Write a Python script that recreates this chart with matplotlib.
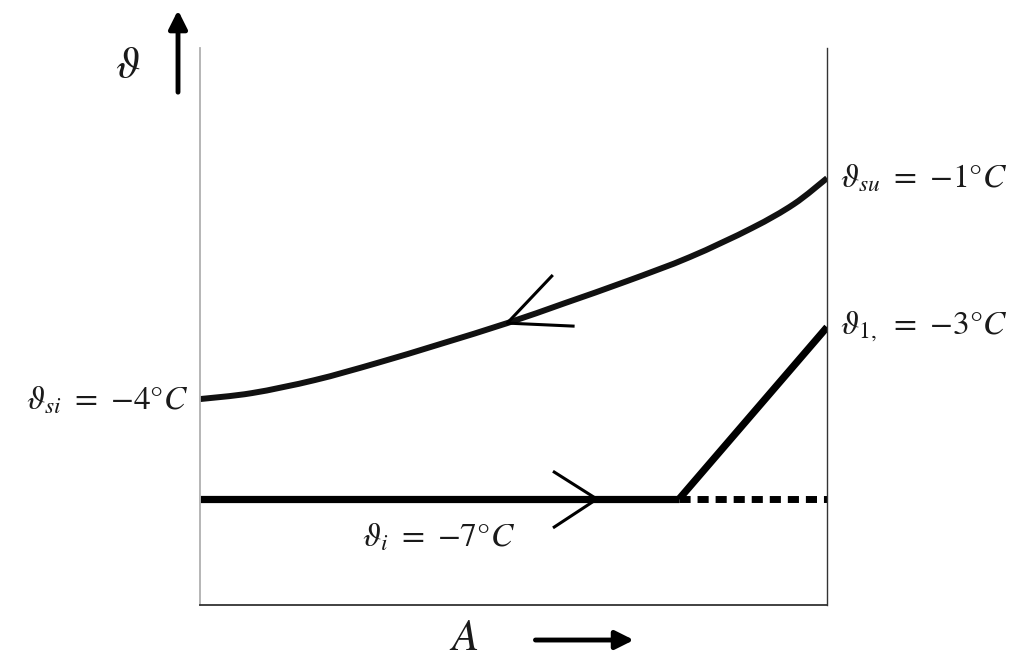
import matplotlib.pyplot as plt
from matplotlib.path import Path
from matplotlib.patches import PathPatch

plt.rcParams["mathtext.fontset"] = "stix"

# schematic coordinates: A as fraction of exchanger area, theta in arbitrary height units
curve_A = [0.0, 0.083, 0.183, 0.282, 0.383, 0.490, 0.582, 0.681, 0.781, 0.880, 0.947, 1.0]
curve_theta = [206, 212, 225, 242, 261, 282, 302, 324, 348, 377, 401, 427]

flat_A = [0.0, 0.764]
flat_theta = [106, 106]
rise_A = [0.764, 1.0]
rise_theta = [106, 278]
dotted_A = [0.764, 1.0]
dotted_theta = [106, 106]

# open arrowheads showing flow direction (arm, tip, arm)
upper_head_A = [0.561, 0.490, 0.595]
upper_head_theta = [329, 282, 279]
lower_head_A = [0.565, 0.633, 0.565]
lower_head_theta = [133, 106, 78]

labels = {
    "su": r"$\vartheta_{su}\ =\ {-1}°C$",
    "one": r"$\vartheta_{1,}\ =\ {-3}°C$",
    "si": r"$\vartheta_{si}\ =\ {-4}°C$",
    "i": r"$\vartheta_{i}\ =\ {-7}°C$",
}


def smooth_path(xs, ys):
    # Catmull-Rom through the read points, drawn as cubic Bezier pieces
    pts = list(zip(xs, ys))
    verts = [pts[0]]
    codes = [Path.MOVETO]
    for i in range(len(pts) - 1):
        p0 = pts[i - 1] if i > 0 else pts[i]
        p1, p2 = pts[i], pts[i + 1]
        p3 = pts[i + 2] if i + 2 < len(pts) else pts[i + 1]
        c1 = (p1[0] + (p2[0] - p0[0]) / 6, p1[1] + (p2[1] - p0[1]) / 6)
        c2 = (p2[0] - (p3[0] - p1[0]) / 6, p2[1] - (p3[1] - p1[1]) / 6)
        verts += [c1, c2, p2]
        codes += [Path.CURVE4] * 3
    return Path(verts, codes)


fig = plt.figure(figsize=(10.27, 6.59), dpi=100)
ax = fig.add_axes([0.1947, 0.0819, 0.6106, 0.845])
ax.set_xlim(0, 1)
ax.set_ylim(0, 557)

ax.spines["top"].set_visible(False)
ax.spines["left"].set_color("#b0b0b0")
ax.spines["left"].set_linewidth(1.3)
ax.spines["right"].set_color("#333333")
ax.spines["right"].set_linewidth(1.0)
ax.spines["bottom"].set_color("#333333")
ax.spines["bottom"].set_linewidth(1.3)
ax.set_xticks([])
ax.set_yticks([])

ax.add_patch(PathPatch(smooth_path(curve_A, curve_theta), facecolor="none",
                       edgecolor="#111111", lw=4.3, capstyle="butt"))
ax.plot(flat_A, flat_theta, color="black", lw=5.2, solid_capstyle="butt")
ax.plot(rise_A, rise_theta, color="black", lw=5.2, solid_capstyle="butt")
ax.plot(dotted_A, dotted_theta, color="black", lw=5, linestyle=(0, (1.6, 1.0)))
ax.plot(upper_head_A, upper_head_theta, color="black", lw=2.2)
ax.plot(lower_head_A, lower_head_theta, color="black", lw=2.2)

txt = dict(color="#1a1a1a", fontsize=24, clip_on=False)
ax.text(1.02, 427, labels["su"], ha="left", va="center", **txt)
ax.text(1.02, 278, labels["one"], ha="left", va="center", **txt)
ax.text(-0.019, 205, labels["si"], ha="right", va="center", **txt)
ax.text(0.38, 68, labels["i"], ha="center", va="center", **txt)

# axis direction arrows
ax.annotate("", xy=(-0.035, 595), xytext=(-0.035, 513), annotation_clip=False,
            arrowprops=dict(arrowstyle="-|>,head_length=1.1,head_width=0.55",
                            color="black", lw=3.5, shrinkA=0, shrinkB=0))
ax.text(-0.115, 540, r"$\vartheta$", fontsize=32, ha="center", va="center",
        color="#1a1a1a", clip_on=False)
ax.annotate("", xy=(0.692, -35), xytext=(0.535, -35), annotation_clip=False,
            arrowprops=dict(arrowstyle="-|>,head_length=1.1,head_width=0.55",
                            color="black", lw=3.5, shrinkA=0, shrinkB=0))
ax.text(0.42, -32, r"$A$", fontsize=32, ha="center", va="center",
        color="#1a1a1a", clip_on=False)

fig.savefig("out.png", dpi=100)
